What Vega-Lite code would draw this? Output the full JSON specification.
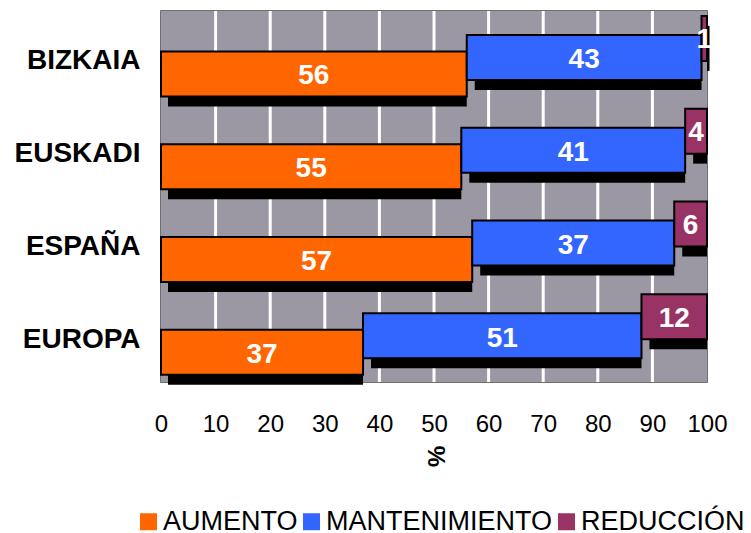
{
  "$schema": "https://vega.github.io/schema/vega-lite/v6.json",
  "width": 546,
  "height": 371,
  "autosize": {"type": "none"},
  "padding": {"left": 161, "top": 11, "right": 44, "bottom": 151},
  "background": "white",
  "config": {
    "font": "Liberation Sans",
    "view": {"fill": null, "stroke": "#404040", "strokeWidth": 1.5},
    "axisX": {"grid": false, "ticks": false, "domain": false, "labelFontSize": 24, "labelColor": "black", "labelPadding": 30, "labelFlush": false, "labelOverlap": false, "titleFontSize": 24, "titleFontWeight": "bold", "titleAngle": 90, "titleBaseline": "middle", "titlePadding": 20, "titleColor": "black"}
  },
  "data": {
    "values": [
      {"region": "BIZKAIA", "series": "AUMENTO", "value": 56},
      {"region": "BIZKAIA", "series": "MANTENIMIENTO", "value": 43},
      {"region": "BIZKAIA", "series": "REDUCCIÓN", "value": 1},
      {"region": "EUSKADI", "series": "AUMENTO", "value": 55},
      {"region": "EUSKADI", "series": "MANTENIMIENTO", "value": 41},
      {"region": "EUSKADI", "series": "REDUCCIÓN", "value": 4},
      {"region": "ESPAÑA", "series": "AUMENTO", "value": 57},
      {"region": "ESPAÑA", "series": "MANTENIMIENTO", "value": 37},
      {"region": "ESPAÑA", "series": "REDUCCIÓN", "value": 6},
      {"region": "EUROPA", "series": "AUMENTO", "value": 37},
      {"region": "EUROPA", "series": "MANTENIMIENTO", "value": 51},
      {"region": "EUROPA", "series": "REDUCCIÓN", "value": 12}
    ]
  },
  "layer": [
    {
      "data": {"values": [{"from": 0, "to": 100}]},
      "mark": {"type": "rect", "fill": "#9b97a3"},
      "encoding": {
        "x": {"field": "from", "type": "quantitative", "scale": {"domain": [0, 100], "nice": false},
          "axis": {"values": [0,10,20,30,40,50,60,70,80,90,100], "title": "%"}},
        "x2": {"field": "to"}
      }
    },
    {
      "data": {"values": [{"tick": 10}, {"tick": 20}, {"tick": 30}, {"tick": 40}, {"tick": 50}, {"tick": 60}, {"tick": 70}, {"tick": 80}, {"tick": 90}]},
      "mark": {"type": "rule", "color": "white", "strokeWidth": 3},
      "encoding": {
        "x": {"field": "tick", "type": "quantitative", "axis": {"values": [0,10,20,30,40,50,60,70,80,90,100], "title": "%"}}
      }
    },
    {
      "transform": [
        {"stack": "value", "groupby": ["region"], "sort": [{"field": "series", "order": "ascending"}], "as": ["x0", "x1"]},
        {"calculate": "(datum.x0 + datum.x1) / 2", "as": "mid"}
      ],
      "encoding": {
        "y": {
          "field": "region", "type": "nominal",
          "sort": ["BIZKAIA", "EUSKADI", "ESPAÑA", "EUROPA"],
          "scale": {"paddingInner": 0, "paddingOuter": 0},
          "axis": {"title": null, "ticks": false, "domain": false, "grid": false, "labelFontSize": 28, "labelFontWeight": "bold", "labelColor": "black", "labelPadding": 21, "labelOffset": 4}
        }
      },
      "layer": [
        {
          "transform": [{"filter": "datum.series == 'AUMENTO'"}],
          "mark": {"type": "bar", "height": 45, "color": "black", "xOffset": 7, "yOffset": 26.5},
          "encoding": {
            "x": {"field": "x0", "type": "quantitative", "axis": {"values": [0,10,20,30,40,50,60,70,80,90,100], "title": "%"}},
            "x2": {"field": "x1"}
          }
        },
        {
          "transform": [{"filter": "datum.series == 'MANTENIMIENTO'"}],
          "mark": {"type": "bar", "height": 45, "color": "black", "xOffset": 8, "yOffset": 10},
          "encoding": {"x": {"field": "x0", "type": "quantitative"}, "x2": {"field": "x1"}}
        },
        {
          "transform": [{"filter": "datum.series == 'REDUCCIÓN'"}],
          "mark": {"type": "bar", "height": 45, "color": "black", "xOffset": 8, "yOffset": -9},
          "encoding": {"x": {"field": "x0", "type": "quantitative"}, "x2": {"field": "x1"}}
        },
        {
          "transform": [{"filter": "datum.series == 'AUMENTO'"}],
          "mark": {"type": "bar", "height": 45, "stroke": "black", "strokeWidth": 2, "yOffset": 16.5},
          "encoding": {
            "x": {"field": "x0", "type": "quantitative"}, "x2": {"field": "x1"},
            "color": {"field": "series", "type": "nominal",
              "scale": {"domain": ["AUMENTO", "MANTENIMIENTO", "REDUCCIÓN"], "range": ["#FF6600", "#3366FF", "#993366"]},
              "legend": {"title": null, "orient": "none", "legendX": -26, "legendY": 497, "direction": "horizontal", "symbolType": "square", "symbolSize": 289, "symbolStrokeWidth": 0, "symbolOpacity": 1, "labelFontSize": 27, "labelColor": "black", "labelOffset": 1, "labelLimit": 0, "columnPadding": 0}}
          }
        },
        {
          "transform": [{"filter": "datum.series == 'MANTENIMIENTO'"}],
          "mark": {"type": "bar", "height": 45, "stroke": "black", "strokeWidth": 2, "yOffset": 0},
          "encoding": {"x": {"field": "x0", "type": "quantitative"}, "x2": {"field": "x1"}, "color": {"field": "series", "type": "nominal"}}
        },
        {
          "transform": [{"filter": "datum.series == 'REDUCCIÓN'"}],
          "mark": {"type": "bar", "height": 45, "stroke": "black", "strokeWidth": 2, "yOffset": -19},
          "encoding": {"x": {"field": "x0", "type": "quantitative"}, "x2": {"field": "x1"}, "color": {"field": "series", "type": "nominal"}}
        },
        {
          "transform": [{"filter": "datum.series == 'AUMENTO'"}],
          "mark": {"type": "text", "color": "white", "fontSize": 28, "fontWeight": "bold", "baseline": "middle", "yOffset": 19},
          "encoding": {"x": {"field": "mid", "type": "quantitative"}, "text": {"field": "value", "type": "quantitative"}}
        },
        {
          "transform": [{"filter": "datum.series == 'MANTENIMIENTO'"}],
          "mark": {"type": "text", "color": "white", "fontSize": 28, "fontWeight": "bold", "baseline": "middle", "yOffset": 3},
          "encoding": {"x": {"field": "mid", "type": "quantitative"}, "text": {"field": "value", "type": "quantitative"}}
        },
        {
          "transform": [{"filter": "datum.series == 'REDUCCIÓN'"}],
          "mark": {"type": "text", "color": "white", "fontSize": 28, "fontWeight": "bold", "baseline": "middle", "yOffset": -17},
          "encoding": {"x": {"field": "mid", "type": "quantitative"}, "text": {"field": "value", "type": "quantitative"}}
        }
      ]
    }
  ]
}
